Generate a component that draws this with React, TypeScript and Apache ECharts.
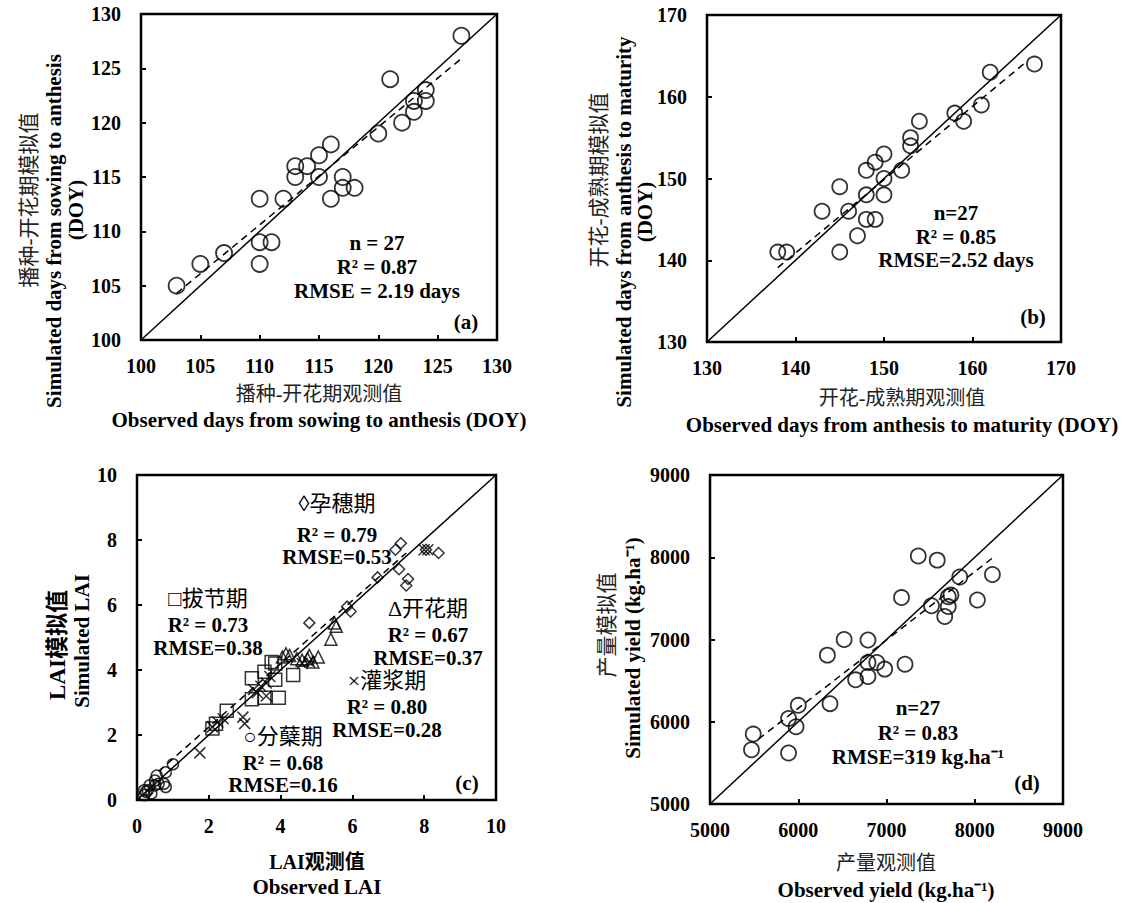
import React, { useEffect, useRef } from 'react';
import * as echarts from 'echarts';

const SERIF = "'Liberation Serif','Times New Roman','Noto Sans CJK SC',serif";

// Panel (a): sowing -> anthesis (observed vs simulated, DOY)
const aObs = [103, 105, 107, 110, 110, 110, 111, 112, 113, 113, 114, 115, 115, 116, 116, 117, 117, 118, 120, 121, 122, 123, 123, 124, 124, 127];
const aSim = [105, 107, 108, 113, 109, 107, 109, 113, 115, 116, 116, 117, 115, 118, 113, 115, 114, 114, 119, 124, 120, 121, 122, 123, 122, 128];
const aFit = [[103, 104.3], [127, 125.9]];
const aTicks = [100, 130, 5];

// Panel (b): anthesis -> maturity
const bObs = [138, 139, 145, 145, 143, 146, 147, 148, 149, 148, 148, 149, 150, 150, 150, 152, 153, 153, 154, 158, 159, 161, 162, 167];
const bSim = [141, 141, 149, 141, 146, 146, 143, 145, 145, 148, 151, 152, 153, 148, 150, 151, 154, 155, 157, 158, 157, 159, 163, 164];
const bFit = [[138, 139.1], [166, 164.2]];
const bTicks = [130, 170, 10];

// Panel (c): LAI by stage
const tilleringObs = [0.2, 0.25, 0.3, 0.4, 0.5, 0.5, 0.55, 0.6, 0.75, 0.8, 0.8, 1.0, 0.35, 0.2];
const tilleringSim = [0.15, 0.25, 0.3, 0.2, 0.45, 0.6, 0.75, 0.5, 0.5, 0.4, 0.85, 1.1, 0.45, 0.3];
const jointingObs = [2.1, 2.5, 3.2, 3.2, 3.55, 3.55, 3.85, 3.85, 3.95, 4.35, 3.75, 2.2];
const jointingSim = [2.2, 2.75, 3.1, 3.75, 3.95, 3.15, 3.7, 4.2, 3.15, 3.85, 4.25, 2.35];
const bootingObs = [4.8, 5.85, 5.95, 6.7, 7.2, 7.35, 7.3, 7.55, 7.5, 8.05, 8.4];
const bootingSim = [5.45, 5.95, 5.8, 6.85, 7.7, 7.9, 7.1, 6.8, 6.6, 7.7, 7.6];
const anthesisObs = [4.05, 4.25, 4.45, 4.6, 4.75, 4.9, 5.05, 5.4, 5.55, 5.5, 4.15, 4.8];
const anthesisSim = [4.4, 4.45, 4.35, 4.3, 4.35, 4.25, 4.4, 4.95, 5.35, 5.45, 4.5, 4.45];
const fillingObs = [1.75, 2.1, 2.25, 2.4, 2.95, 3.0, 3.25, 3.35, 3.45, 3.6, 3.6, 3.7, 4.6, 4.8, 8.0, 8.1];
const fillingSim = [1.45, 2.25, 2.4, 2.5, 2.55, 2.35, 3.4, 3.3, 3.5, 3.2, 3.6, 3.8, 4.2, 4.25, 7.7, 7.7];
const cFit = [[0.6, 0.88], [7.5, 7.6]];
const cTicks = [0, 10, 2];

// Panel (d): yield
const dObs = [5470, 5490, 5890, 5890, 5975, 6000, 6360, 6330, 6520, 6650, 6790, 6790, 6790, 6890, 6980, 7210, 7170, 7360, 7575, 7510, 7660, 7700, 7730, 7700, 7830, 8030, 8200];
const dSim = [5660, 5850, 5620, 6040, 5940, 6200, 6220, 6810, 7000, 6510, 6720, 6550, 6994, 6720, 6640, 6700, 7510, 8015, 7965, 7410, 7280, 7400, 7540, 7520, 7760, 7480, 7790];
const dFit = [[5550, 5790], [8200, 7990]];
const dTicks = [5000, 9000, 1000];

const zip = (xs: number[], ys: number[]) => xs.map((x, i) => [x, ys[i]]);

const grids = [
  { left: 141, top: 14, width: 356, height: 326 },
  { left: 707, top: 15, width: 354, height: 327 },
  { left: 137, top: 475, width: 359, height: 325 },
  { left: 710, top: 475, width: 353, height: 329 },
];
const ticks = [aTicks, bTicks, cTicks, dTicks];

function txt(x: number, y: number, text: string, o: any = {}) {
  return {
    type: 'text',
    x,
    y,
    rotation: o.rot ? Math.PI / 2 : 0,
    silent: true,
    z: 100,
    style: {
      text,
      x: 0,
      y: 0,
      fill: o.color || '#000',
      fontSize: o.size || 21,
      fontWeight: o.weight || 'bold',
      fontFamily: SERIF,
      textAlign: 'center',
      textVerticalAlign: 'middle',
      align: 'center',
      verticalAlign: 'middle',
    },
  };
}

const CN = { weight: 'normal', size: 20, color: '#222' };
const CNY = { weight: 'normal', size: 21, color: '#222', rot: true };

const CROSS = 'path://M0,0L10,10M0,10L10,0';

export default function App() {
  const ref = useRef<HTMLDivElement>(null);
  useEffect(() => {
    if (!ref.current) return;
    const chart = echarts.init(ref.current, null, { renderer: 'svg' });
    const fmt = (v: number) => String(v);
    const axisCommon = (i: number) => ({
      gridIndex: i,
      type: 'value',
      min: ticks[i][0],
      max: ticks[i][1],
      interval: ticks[i][2],
      axisLine: { show: false },
      axisTick: { show: true, inside: true, length: 5, lineStyle: { color: '#000', width: 2 } },
      splitLine: { show: false },
    });
    const xAxis = grids.map((_, i) => ({
      ...axisCommon(i),
      axisLabel: { fontFamily: SERIF, fontWeight: 'bold', fontSize: 20, color: '#000', margin: 16, formatter: fmt },
    }));
    const yAxis = grids.map((_, i) => ({
      ...axisCommon(i),
      axisLabel: { fontFamily: SERIF, fontWeight: 'bold', fontSize: 20, color: '#000', margin: 20, formatter: fmt },
    }));
    const circ = (i: number, data: number[][], size: number) => ({
      type: 'scatter',
      xAxisIndex: i,
      yAxisIndex: i,
      data,
      symbol: 'circle',
      symbolSize: size,
      itemStyle: { color: 'rgba(0,0,0,0)', borderColor: '#000', borderWidth: 1.8 },
      z: 5,
    });
    const mark = (data: number[][], symbol: string, size: number, bw = 1.5) => ({
      type: 'scatter',
      xAxisIndex: 2,
      yAxisIndex: 2,
      data,
      symbol,
      symbolSize: size,
      itemStyle: { color: 'rgba(0,0,0,0)', borderColor: '#000', borderWidth: bw },
      z: 5,
    });
    const line = (i: number, data: number[][], dashed: boolean) => ({
      type: 'line',
      xAxisIndex: i,
      yAxisIndex: i,
      data,
      symbol: 'none',
      lineStyle: { color: '#000', width: 1.5, type: dashed ? [7, 5] : 'solid' },
      z: 3,
    });
    const series: any[] = [];
    ticks.forEach((t, i) => series.push(line(i, [[t[0], t[0]], [t[1], t[1]]], false)));
    series.push(line(0, aFit, true), line(1, bFit, true), line(2, cFit, true), line(3, dFit, true));
    series.push(circ(0, zip(aObs, aSim), 16));
    series.push(circ(1, zip(bObs, bSim), 15));
    series.push(circ(3, zip(dObs, dSim), 15));
    series.push(mark(zip(tilleringObs, tilleringSim), 'circle', 11));
    series.push(mark(zip(jointingObs, jointingSim), 'rect', 13));
    series.push(mark(zip(bootingObs, bootingSim), 'diamond', 11));
    series.push(mark(zip(anthesisObs, anthesisSim), 'triangle', 12));
    series.push(mark(zip(fillingObs, fillingSim), CROSS, 11));

    const graphic = [
      // panel a
      txt(377, 243, 'n = 27'),
      txt(377, 267, 'R² = 0.87'),
      txt(377, 291, 'RMSE = 2.19 days'),
      txt(466, 322, '(a)'),
      txt(319, 394, '播种-开花期观测值', CN),
      txt(319, 420, 'Observed days from sowing to anthesis (DOY)'),
      txt(29, 200, '播种-开花期模拟值', CNY),
      txt(54, 231, 'Simulated days from sowing to anthesis', { rot: true }),
      txt(76, 210, '(DOY)', { rot: true }),
      // panel b
      txt(956, 213, 'n=27'),
      txt(956, 237, 'R² = 0.85'),
      txt(956, 260, 'RMSE=2.52 days'),
      txt(1033, 317, '(b)'),
      txt(902, 398, '开花-成熟期观测值', CN),
      txt(902, 425, 'Observed days from anthesis to maturity (DOY)'),
      txt(599, 180, '开花-成熟期模拟值', CNY),
      txt(624, 222, 'Simulated days from anthesis to maturity', { rot: true }),
      txt(645, 212, '(DOY)', { rot: true }),
      // panel c
      txt(337, 503, '◊孕穗期', { weight: 'normal', size: 22 }),
      txt(337, 535, 'R² = 0.79'),
      txt(337, 557, 'RMSE=0.53'),
      txt(208, 598, '□拔节期', { weight: 'normal', size: 22 }),
      txt(208, 625, 'R² = 0.73'),
      txt(208, 648, 'RMSE=0.38'),
      txt(428, 608, 'Δ开花期', { weight: 'normal', size: 22 }),
      txt(428, 635, 'R² = 0.67'),
      txt(428, 658, 'RMSE=0.37'),
      txt(387, 680, '×灌浆期', { weight: 'normal', size: 22 }),
      txt(387, 707, 'R² = 0.80'),
      txt(387, 730, 'RMSE=0.28'),
      txt(283, 736, '○分蘖期', { weight: 'normal', size: 22 }),
      txt(283, 763, 'R² = 0.68'),
      txt(283, 785, 'RMSE=0.16'),
      txt(467, 783, '(c)'),
      txt(317, 862, 'LAI观测值', { size: 20 }),
      txt(317, 887, 'Observed LAI'),
      txt(57, 645, 'LAI模拟值', { rot: true, size: 23 }),
      txt(82, 641, 'Simulated LAI', { rot: true }),
      // panel d
      txt(918, 708, 'n=27'),
      txt(918, 733, 'R² = 0.83'),
      txt(918, 757, 'RMSE=319 kg.ha⁻¹'),
      txt(1027, 783, '(d)'),
      txt(886, 863, '产量观测值', CN),
      txt(886, 890, 'Observed yield (kg.ha⁻¹)'),
      txt(607, 625, '产量模拟值', CNY),
      txt(633, 648, 'Simulated yield (kg.ha⁻¹)', { rot: true }),
    ];

    chart.setOption({
      animation: false,
      backgroundColor: '#fff',
      grid: grids.map((g) => ({ ...g, show: true, borderColor: '#000', borderWidth: 2.5, backgroundColor: 'rgba(0,0,0,0)' })),
      xAxis,
      yAxis,
      series,
      graphic,
    });
    return () => chart.dispose();
  }, []);
  return <div ref={ref} style={{ position: 'absolute', left: 0, top: 0, width: 1128, height: 903 }} />;
}
